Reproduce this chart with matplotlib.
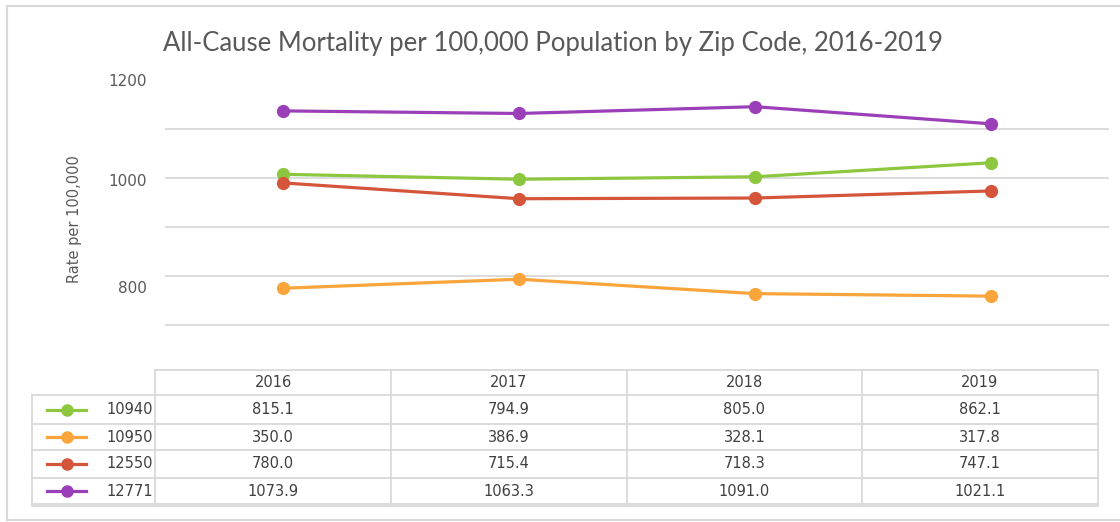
#!/usr/bin/env python3
# -*- coding: utf-8 -*-
'''
All-cause mortality per 100,000 by zip code, 2016-2019 (line chart with data table).
'''
import numpy as np
import matplotlib
matplotlib.use('Agg')
import matplotlib.pyplot as plt

years = ['2016', '2017', '2018', '2019']
zips = ['10940', '10950', '12550', '12771']
rate_10940 = [815.1, 794.9, 805.0, 862.1]
rate_10950 = [350.0, 386.9, 328.1, 317.8]
rate_12550 = [780.0, 715.4, 718.3, 747.1]
rate_12771 = [1073.9, 1063.3, 1091.0, 1021.1]
series = [rate_10940, rate_10950, rate_12550, rate_12771]
colors = ['#8DC63F', '#F9A53B', '#D4553A', '#9B3FB8']

# y tick labels as they appear (Excel's odd placement)
ytick_labels = ['1200', '1000', '800']

W, H = 1120, 522
TXT = '#595959'
CELL = '#404040'
GRID = '#D9D9D9'
NUMFONT = ['DejaVu Sans']
plt.rcParams['font.family'] = ['Lato', 'DejaVu Sans']

fig = plt.figure(figsize=(W/100, H/100), dpi=100)

# overlay in pixel coords for frame + table
ov = fig.add_axes([0, 0, 1, 1])
ov.set_xlim(0, W); ov.set_ylim(H, 0); ov.axis('off')
ov.plot([7, 7, W+5], [520, 6, 6], color=GRID, lw=1.5)
ov.plot([7, W+5], [520, 520], color=GRID, lw=1.5)

# main plot area
x0, x1, ytop, ybot = 165, 1109, 80, 374
ax = fig.add_axes([x0/W, 1-ybot/H, (x1-x0)/W, (ybot-ytop)/H])
ax.set_xlim(-0.5, len(years)-0.5)
ax.set_ylim(0, 1200)
for vals, c in zip(series, colors):
    ax.plot(range(len(years)), vals, color=c, lw=2.3, marker='o', ms=8.5, zorder=3)
for s in ax.spines.values():
    s.set_visible(False)
ax.set_yticks(np.arange(200, 1201, 200), minor=True)
ax.grid(True, which='minor', axis='y', color=GRID, lw=1.3)
ax.set_yticks([1200, 792, 355])
ax.set_yticklabels(ytick_labels, color=TXT, fontsize=11, family=NUMFONT)
ax.tick_params(axis='y', which='both', length=0, pad=13)
ax.set_xticks([])
ax.set_zorder(2); ax.patch.set_alpha(0)

fig.text(75/W, 1-219/H, 'Rate per 100,000', rotation=90, ha='center', va='center',
         color=TXT, fontsize=10.5, family=NUMFONT)
fig.text(553/W, 1-43/H, 'All-Cause Mortality per 100,000 Population by Zip Code, 2016-2019',
         ha='center', va='center', color=TXT, fontsize=18.5)

# data table
cols = [155, 391, 627, 862, 1098]
rows = [370, 395, 424, 450, 478, 504]
for cx in cols:
    ov.plot([cx, cx], [rows[0], rows[-1]], color=GRID, lw=1.3)
ov.plot([32, 32], [rows[1], rows[-1]], color=GRID, lw=1.3)
ov.plot([cols[0], cols[-1]], [rows[0], rows[0]], color=GRID, lw=1.3)
for ry in rows[1:]:
    ov.plot([32, cols[-1]], [ry, ry], color=GRID, lw=1.3)
ov.plot([32, cols[-1]], [rows[-1]+1.5, rows[-1]+1.5], color=GRID, lw=1.3)

for j, yr in enumerate(years):
    ov.text((cols[j]+cols[j+1])/2, (rows[0]+rows[1])/2, yr, ha='center', va='center',
            color=CELL, fontsize=10.5, family=NUMFONT)
for i, (z, vals, c) in enumerate(zip(zips, series, colors)):
    cy = (rows[i+1]+rows[i+2])/2
    ov.plot([47, 86], [cy, cy], color=c, lw=2.3)
    ov.plot([67], [cy], marker='o', color=c, ms=8)
    ov.text(153, cy, z, ha='right', va='center', color=CELL, fontsize=10.5, family=NUMFONT)
    for j, v in enumerate(vals):
        ov.text((cols[j]+cols[j+1])/2, cy, f'{v:.1f}', ha='center', va='center',
                color=CELL, fontsize=10.5, family=NUMFONT)

fig.savefig('out.png', dpi=100)
